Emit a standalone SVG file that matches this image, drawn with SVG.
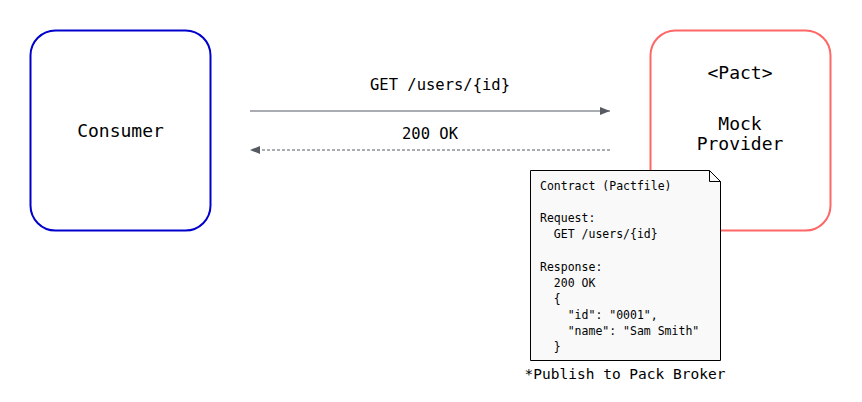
<svg xmlns="http://www.w3.org/2000/svg" width="862" height="402" viewBox="0 0 862 402">
<style>
  text { font-family: "DejaVu Sans Mono", "Liberation Mono", monospace; fill: #000; }
  .big { font-size: 18px; text-anchor: middle; }
  .lbl { font-size: 15.5px; text-anchor: middle; }
  .note { font-size: 11.5px; }
  .conn { stroke: #555a63; stroke-width: 1; fill: none; }
</style>
<defs>
  <marker id="ah" viewBox="0 0 10 10" refX="10" refY="5" markerWidth="10" markerHeight="10" markerUnits="userSpaceOnUse" orient="auto">
    <path d="M0,1 L10,5 L0,9 Z" fill="#555a63"/>
  </marker>
</defs>
<rect width="862" height="402" fill="#fff"/>
<g id="consumer">
  <rect x="30.5" y="30.5" width="180" height="200" rx="25" fill="#fff" stroke="#0000cc" stroke-width="2"/>
  <text class="big" x="120.5" y="137">Consumer</text>
</g>
<g id="provider">
  <rect x="650.5" y="30.5" width="180" height="200" rx="25" fill="#fff" stroke="#ff6666" stroke-width="2"/>
  <text class="big" x="740" y="79">&lt;Pact&gt;</text>
  <text class="big" x="740" y="130">Mock</text>
  <text class="big" x="740" y="150">Provider</text>
</g>
<g id="connectors">
  <line class="conn" x1="250" y1="111" x2="610" y2="111" marker-end="url(#ah)"/>
  <text class="lbl" x="440" y="90">GET /users/{id}</text>
  <line class="conn" x1="610" y1="150" x2="250" y2="150" stroke-dasharray="3,2" marker-end="url(#ah)"/>
  <text class="lbl" x="430" y="139">200 OK</text>
</g>
<g id="contract">
  <path d="M530.5,170.5 H709.5 L720.5,181.5 V360.5 H530.5 Z" fill="#f9f9f9" stroke="#000" stroke-width="1"/>
  <path d="M709.5,170.5 V181.5 H720.5" fill="none" stroke="#000" stroke-width="1"/>
  <text class="note" x="540" y="190">Contract (Pactfile)</text>
  <text class="note" x="540" y="222">Request:</text>
  <text class="note" x="540" y="238" xml:space="preserve">  GET /users/{id}</text>
  <text class="note" x="540" y="271" xml:space="preserve">Response:</text>
  <text class="note" x="540" y="287" xml:space="preserve">  200 OK</text>
  <text class="note" x="540" y="303" xml:space="preserve">  {</text>
  <text class="note" x="540" y="319" xml:space="preserve">    "id": "0001",</text>
  <text class="note" x="540" y="335" xml:space="preserve">    "name": "Sam Smith"</text>
  <text class="note" x="540" y="351" xml:space="preserve">  }</text>
  <text x="625" y="379" style="font-size:14.5px;text-anchor:middle">*Publish to Pack Broker</text>
</g>
</svg>
